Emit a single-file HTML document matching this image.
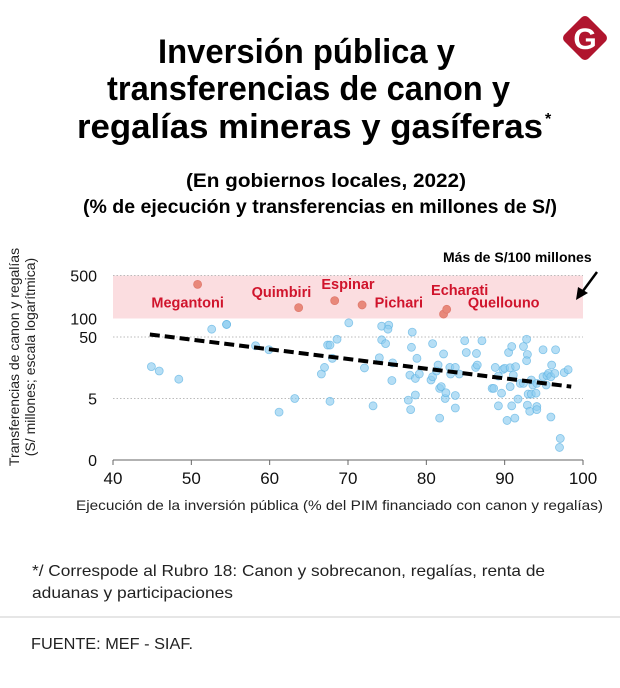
<!DOCTYPE html>
<html><head><meta charset="utf-8"><style>
body{margin:0;background:#fff;}
svg{display:block;font-family:"Liberation Sans",sans-serif;}
</style></head><body>
<svg id="chart" width="620" height="688" viewBox="0 0 620 688">
<g>
<rect x="568" y="21" width="34" height="34" rx="5" fill="#b0152e" transform="rotate(45 585 38)"/>
<text x="585" y="49" text-anchor="middle" font-size="30" font-weight="bold" fill="#fff">G</text>
</g>
<g font-weight="bold" fill="#000" font-size="34">
<text x="158" y="63" textLength="297" lengthAdjust="spacingAndGlyphs">Inversión pública y</text>
<text x="107" y="100" textLength="403" lengthAdjust="spacingAndGlyphs">transferencias de canon y</text>
<text x="77" y="138" textLength="466" lengthAdjust="spacingAndGlyphs">regalías mineras y gasíferas</text>
<text x="545" y="124" font-size="16">*</text>
</g>
<g font-weight="bold" font-size="19">
<text x="186" y="187" textLength="280" lengthAdjust="spacingAndGlyphs">(En gobiernos locales, 2022)</text>
<text x="83" y="213" textLength="474" lengthAdjust="spacingAndGlyphs">(% de ejecución y transferencias en millones de S/)</text>
</g>
<g id="plot"></g>
<g font-size="14" fill="#222">
<text transform="translate(19,357) rotate(-90)" text-anchor="middle">Transferencias de canon y regalías</text>
<text transform="translate(35,357) rotate(-90)" text-anchor="middle">(S/ millones; escala logarítmica)</text>
</g>
<text x="76" y="510" font-size="14" fill="#222" textLength="527" lengthAdjust="spacingAndGlyphs">Ejecución de la inversión pública (% del PIM financiado con canon y regalías)</text>
<g font-size="16" fill="#222">
<text x="32" y="576" textLength="513" lengthAdjust="spacingAndGlyphs">*/ Correspode al Rubro 18: Canon y sobrecanon, regalías, renta de</text>
<text x="32" y="598" textLength="201" lengthAdjust="spacingAndGlyphs">aduanas y participaciones</text>
</g>
<line x1="0" y1="617" x2="620" y2="617" stroke="#ddd" stroke-width="1.5"/>
<text x="31" y="649" font-size="16" fill="#222" textLength="162" lengthAdjust="spacingAndGlyphs">FUENTE: MEF - SIAF.</text>
</svg>
<script>
const xTicks=[40,50,60,70,80,90,100];
const yTicks=[500,100,50,5,0.5];
const yTickLabels=["500","100","50","5","0"];
const gridValues=[500,50,5];
const bandRange=[500,100];
const redX=[50.8,63.7,68.3,71.8,82.2,82.6];
const redY=[359,150,195,166,118,141];
const labelNames=["Megantoni","Quimbiri","Espinar","Pichari","Echarati","Quellouno"];
const labelX=[44.9,57.7,66.6,73.4,80.6,85.3];
const labelY=[150,224,302,150,241,150];
const blueX=[44.9,45.9,48.4,52.6,54.5,54.5,58.2,59.9,63.2,61.2,66.6,67.0,67.4,67.7,67.7,68.0,68.6,70.1,72.1,73.2,74.0,74.3,75.2,75.1,74.3,74.8,75.7,75.6,77.7,78.0,78.2,78.1,78.8,77.9,78.6,79.1,78.6,80.6,80.8,80.8,81.5,81.3,81.7,81.9,82.2,81.7,82.4,82.5,83.0,83.1,83.7,83.7,83.7,84.2,84.9,85.1,86.3,86.4,86.5,87.1,88.4,88.6,88.8,89.2,89.2,89.6,89.8,90.0,90.3,90.5,90.9,90.7,90.7,91.1,90.9,91.3,91.4,91.7,92.0,92.4,92.4,92.8,92.9,92.8,93.0,92.9,93.2,93.4,93.6,93.4,94.0,94.1,94.1,94.9,94.9,95.3,94.1,95.4,95.6,95.9,96.0,95.9,96.4,96.5,97.1,97.0,97.6,98.1];
const blueY=[16.5,14,10.3,67,80,80,36,31,5.0,3.0,12.5,16,37,37,4.5,22.5,46,85,15.7,3.8,23,75,78,67,45,39,19,9.8,4.7,3.3,60,34,22.5,12,10.6,12.5,5.7,10,11.3,39,17.5,14,7.3,7.8,26.5,2.4,5.0,6.2,16,12.5,16,5.6,3.5,12.5,43.5,28,16,27,17.5,43.5,7.3,7.3,16,11.6,3.8,6.1,14.9,15.5,2.2,28,35,7.8,15.8,12,3.8,2.4,16.5,4.9,8.8,35,8.8,46,26,20.6,5.9,3.9,3.1,10,8.3,5.9,6.1,3.7,3.3,31,11.3,8.3,8.8,11.8,12.8,11.3,17.5,2.5,12.8,31,1.12,0.8,13.2,14.7];
const trendX=[44.7,98.5];
const trendY=[55,7.8];

const NS="http://www.w3.org/2000/svg";
const plot=document.getElementById('plot');


function xs(v){return 113+(v-40)*(470/60);}
function ys(v){return 337-(Math.log10(v)-Math.log10(50))*61.5;}
function mk(tag,attrs,parent){const e=document.createElementNS(NS,tag);for(const k in attrs)e.setAttribute(k,attrs[k]);(parent||plot).appendChild(e);return e;}
let band=mk('rect',{x:xs(40),y:ys(bandRange[0]),width:xs(100)-xs(40),height:ys(bandRange[1])-ys(bandRange[0]),fill:'#fbdde0'});


gridValues.forEach(g=>{
 const l=mk('line',{x1:xs(40),x2:xs(100),y1:ys(g),y2:ys(g),stroke:'#bbb','stroke-dasharray':'1.5 2'});
 
 
});
const ax=mk('line',{x1:xs(40),x2:xs(100),y1:ys(0.5),y2:ys(0.5),stroke:'#666'});


xTicks.forEach(t=>{
 const tk=mk('line',{x1:xs(t),x2:xs(t),y1:ys(0.5),y2:ys(0.5)+5,stroke:'#666'});
 
 
 const tx=mk('text',{x:xs(t),y:484,'text-anchor':'middle','font-size':17,fill:'#111'});
 tx.textContent=t;
 
 
});
yTicks.forEach((t,i)=>{
 const tx=mk('text',{x:97,y:ys(t)+6,'text-anchor':'end','font-size':16,fill:'#111'});
 tx.textContent=yTickLabels[i];
 
 
});
blueX.forEach((x,i)=>{
 const c=mk('circle',{cx:xs(x),cy:ys(blueY[i]),r:4,fill:'#8ecdf0','fill-opacity':0.65,stroke:'#5fb3e3','stroke-opacity':0.7,'stroke-width':0.8});
 
 
});
redX.forEach((x,i)=>{
 const c=mk('circle',{cx:xs(x),cy:ys(redY[i]),r:4,fill:'#e8887a',stroke:'#e07a6e','stroke-width':0.8});
 
 
});
labelNames.forEach((n,i)=>{
 const t=mk('text',{x:xs(labelX[i]),y:ys(labelY[i]),'font-size':14.5,'font-weight':'bold',fill:'#d0142c'});
 t.textContent=n;
 
 
});
const tl=mk('line',{x1:xs(trendX[0]),y1:ys(trendY[0]),x2:xs(trendX[1]),y2:ys(trendY[1]),stroke:'#000','stroke-width':4,'stroke-dasharray':'10 5'});


const ann=mk('text',{x:443,y:262,'font-size':14,'font-weight':'bold',fill:'#000'});
ann.textContent='Más de S/100 millones';


const ar=mk('line',{x1:597,y1:272,x2:580,y2:295,stroke:'#000','stroke-width':2.5});


const ah=mk('polygon',{points:'576,300 578,287 588,293',fill:'#000'});


</script>
</body></html>
